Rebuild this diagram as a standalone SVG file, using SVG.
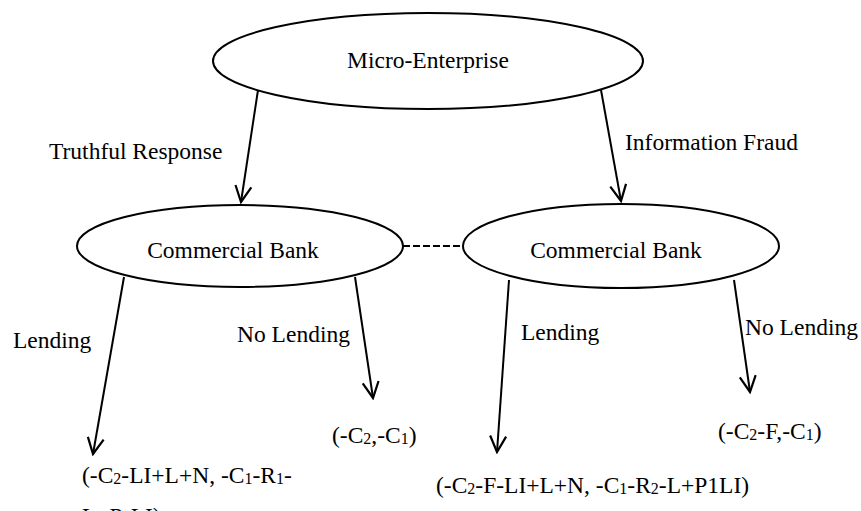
<svg xmlns="http://www.w3.org/2000/svg" width="861" height="511" viewBox="0 0 861 511">
<style>
.node{fill:#fff;stroke:#000;stroke-width:2}
text{font-family:"Liberation Serif","Times New Roman",serif;font-size:23.5px;fill:#000}
.sub{font-size:16px}
.edge{stroke:#000;stroke-width:2;fill:none;marker-end:url(#arr)}
.dash{stroke:#000;stroke-width:2;fill:none;stroke-dasharray:7 3}
</style>
<defs>
<marker id="arr" viewBox="0 0 20 20" refX="18" refY="10" markerWidth="20" markerHeight="20" markerUnits="userSpaceOnUse" orient="auto">
<path d="M2,2 L18,10 L2,18" fill="none" stroke="#000" stroke-width="2.2"/>
</marker>
</defs>
<rect width="861" height="511" fill="#fff"/>
<g id="connectors">
<line class="edge" x1="258" y1="90" x2="241" y2="202"/>
<line class="edge" x1="601" y1="90" x2="621" y2="201"/>
<line class="edge" x1="124" y1="277" x2="93" y2="454"/>
<line class="edge" x1="355" y1="277" x2="373" y2="398"/>
<line class="edge" x1="509" y1="280" x2="497" y2="452"/>
<line class="edge" x1="734" y1="280" x2="750" y2="392"/>
<line class="dash" x1="403" y1="246" x2="463" y2="246"/>
</g>
<g id="micro-enterprise">
<ellipse class="node" cx="428" cy="61" rx="215" ry="48"/>
<text x="428" y="68" text-anchor="middle">Micro-Enterprise</text>
</g>
<g id="bank-left">
<ellipse class="node" cx="240" cy="246" rx="163" ry="41"/>
<text x="233" y="258" text-anchor="middle">Commercial Bank</text>
</g>
<g id="bank-right">
<ellipse class="node" cx="621" cy="246" rx="158" ry="42"/>
<text x="616" y="258" text-anchor="middle">Commercial Bank</text>
</g>
<g id="labels">
<text x="49" y="159">Truthful Response</text>
<text x="625" y="150">Information Fraud</text>
<text x="13" y="348">Lending</text>
<text x="237" y="342">No Lending</text>
<text x="521" y="340">Lending</text>
<text x="745" y="335">No Lending</text>
</g>
<g id="payoff-tl">
<text x="82" y="483">(-C<tspan class="sub" dy="1">2</tspan><tspan dy="-1">-LI+L+N, -C</tspan><tspan class="sub" dy="1">1</tspan><tspan dy="-1">-R</tspan><tspan class="sub" dy="1">1</tspan><tspan dy="-1">-</tspan></text>
<text x="82" y="524">L+P<tspan class="sub" dy="1">1</tspan><tspan dy="-1">LI)</tspan></text>
</g>
<g id="payoff-tn">
<text x="332" y="443">(-C<tspan class="sub" dy="1">2</tspan><tspan dy="-1">,-C</tspan><tspan class="sub" dy="1">1</tspan><tspan dy="-1">)</tspan></text>
</g>
<g id="payoff-fl">
<text x="436" y="493">(-C<tspan class="sub" dy="1">2</tspan><tspan dy="-1">-F-LI+L+N, -C</tspan><tspan class="sub" dy="1">1</tspan><tspan dy="-1">-R</tspan><tspan class="sub" dy="1">2</tspan><tspan dy="-1">-L+P1LI)</tspan></text>
</g>
<g id="payoff-fn">
<text x="718" y="439">(-C<tspan class="sub" dy="1">2</tspan><tspan dy="-1">-F,-C</tspan><tspan class="sub" dy="1">1</tspan><tspan dy="-1">)</tspan></text>
</g>
</svg>
